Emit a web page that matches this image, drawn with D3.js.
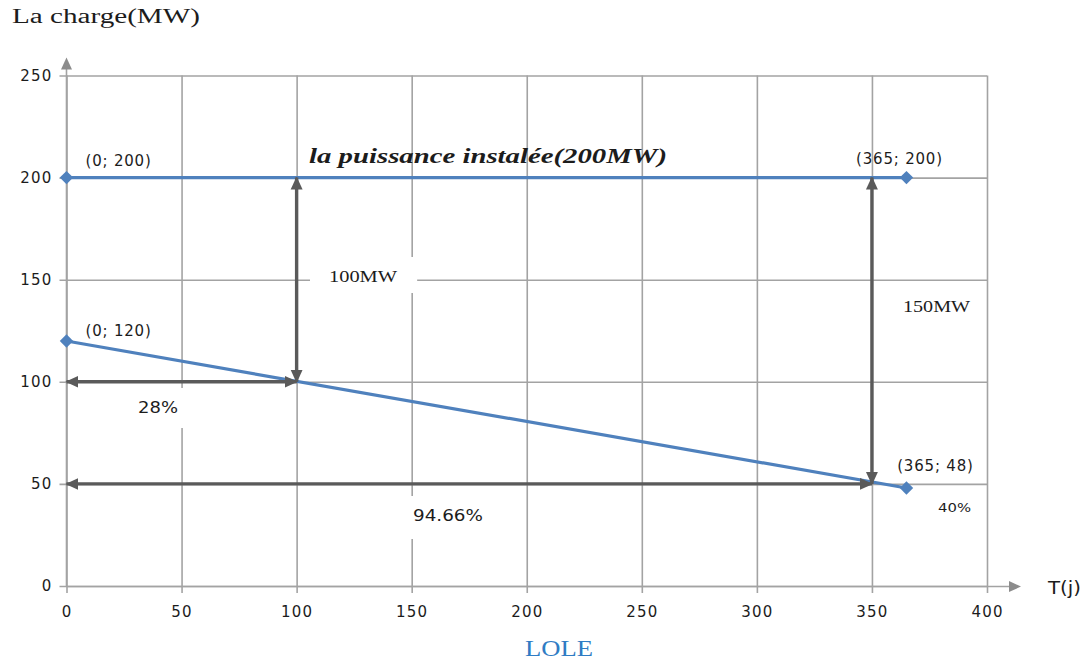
<!DOCTYPE html>
<html>
<head>
<meta charset="utf-8">
<script src="https://cdn.jsdelivr.net/npm/d3@7"></script>
<style>
  body { margin: 0; background: #fff; }
  svg { display: block; }
</style>
</head>
<body>
<svg id="chart" width="1086" height="664"></svg>
<script>
// ---- data ----
const xTicks = [0, 50, 100, 150, 200, 250, 300, 350, 400];
const yTicks = [0, 50, 100, 150, 200, 250];

// installed capacity (MW) over the year
const installedT  = [0, 365];
const installedMW = [200, 200];

// load curve (MW) over the year
const loadT  = [0, 365];
const loadMW = [120, 48];

// double-headed dimension arrows: [t1, mw1, t2, mw2]
const arrowT1  = [0, 100, 0, 350];
const arrowMW1 = [100, 100, 50, 50];
const arrowT2  = [100, 100, 350, 350];
const arrowMW2 = [100, 200, 50, 200];

// ---- layout ----
const svg = d3.select("#chart");
const x = d3.scaleLinear().domain([0, 400]).range([66.5, 987]);
const y = d3.scaleLinear().domain([0, 250]).range([586, 75.5]);

const gridColor = "#a3a3a3";
const blue = "#4f81bd";
const arrowColor = "#5a5a5a";
const textColor = "#1c1c1c";

// arrowhead markers
const defs = svg.append("defs");
defs.append("marker")
  .attr("id", "dimHead")
  .attr("viewBox", "0 0 12 12")
  .attr("refX", 11).attr("refY", 6)
  .attr("markerUnits", "userSpaceOnUse")
  .attr("markerWidth", 13).attr("markerHeight", 13)
  .attr("orient", "auto-start-reverse")
  .append("path").attr("d", "M0,0.5 L12,6 L0,11.5 Z").attr("fill", arrowColor);
defs.append("marker")
  .attr("id", "axisHead")
  .attr("viewBox", "0 0 12 12")
  .attr("refX", 1).attr("refY", 6)
  .attr("markerUnits", "userSpaceOnUse")
  .attr("markerWidth", 13).attr("markerHeight", 12)
  .attr("orient", "auto")
  .append("path").attr("d", "M0,0.5 L12,6 L0,11.5 Z").attr("fill", "#8c8c8c");

// ---- grid ----
const grid = svg.append("g");
// horizontal gridlines (with left tick)
grid.append("g")
  .attr("transform", `translate(${x(0)},0)`)
  .call(d3.axisLeft(y).tickValues(yTicks).tickSize(-(x(400) - x(0))).tickSizeOuter(0).tickFormat(d => d).tickPadding(14))
  .call(g => g.select(".domain").remove())
  .call(g => g.selectAll(".tick line").attr("stroke", gridColor).attr("stroke-width", 1.6).attr("x1", -7))
  .call(g => g.selectAll(".tick text")
    .attr("fill", textColor).attr("font-family", "DejaVu Sans, Verdana, sans-serif")
    .attr("font-size", 15).attr("letter-spacing", 1.2).attr("dy", "0.32em"));

// vertical gridlines (with bottom tick)
grid.append("g")
  .attr("transform", `translate(0,${y(0)})`)
  .call(d3.axisBottom(x).tickValues(xTicks).tickSize(-(y(0) - y(250))).tickSizeOuter(0).tickFormat(d => d).tickPadding(20))
  .call(g => g.select(".domain").remove())
  .call(g => g.selectAll(".tick line").attr("stroke", gridColor).attr("stroke-width", 1.6).attr("y1", 7))
  .call(g => g.selectAll(".tick text")
    .attr("fill", textColor).attr("font-family", "DejaVu Sans, Verdana, sans-serif")
    .attr("font-size", 15).attr("letter-spacing", 1.2).attr("dy", "0.71em"));

// axis arrows
svg.append("line")
  .attr("x1", x(0)).attr("y1", y(0)).attr("x2", x(0)).attr("y2", y(250) - 7)
  .attr("stroke", gridColor).attr("stroke-width", 1.6)
  .attr("marker-end", "url(#axisHead)");
svg.append("line")
  .attr("x1", x(0)).attr("y1", y(0) + 0.5).attr("x2", x(400) + 23).attr("y2", y(0) + 0.5)
  .attr("stroke", gridColor).attr("stroke-width", 1.6)
  .attr("marker-end", "url(#axisHead)");

// ---- text annotations with white backing boxes ----
const boxed = svg.append("g");
function note(txt, px, baseline, opts) {
  const g = boxed.append("g");
  const rect = g.append("rect").attr("fill", "#fff");
  const t = g.append("text")
    .attr("x", px).attr("y", baseline)
    .attr("fill", opts.color || textColor)
    .attr("font-family", opts.family)
    .attr("font-size", opts.size)
    .attr("font-weight", opts.weight || "normal")
    .attr("font-style", opts.style || "normal")
    .attr("text-anchor", opts.anchor || "start")
    .text(txt);
  if (opts.len) t.attr("textLength", opts.len).attr("lengthAdjust", "spacingAndGlyphs");
  if (opts.box) {
    const b = t.node().getBBox();
    rect.attr("x", b.x - opts.box[0]).attr("y", b.y - opts.box[1])
      .attr("width", b.width + 2 * opts.box[0]).attr("height", b.height + opts.box[1] + opts.box[2]);
  } else rect.remove();
  return t;
}
const sans = "DejaVu Sans, Verdana, sans-serif";
const serif = "Liberation Serif, Times New Roman, serif";

note("La charge(MW)", 12, 23, { family: serif, size: 20, len: 188 });
note("T(j)", 1048, 594, { family: sans, size: 17, len: 33 });
note("100MW", 329, 282, { family: serif, size: 16, len: 68, box: [19, 11, 8] });
note("150MW", 903, 312, { family: serif, size: 16, len: 67 });
note("28%", 138, 413, { family: sans, size: 15, len: 40, box: [22, 11, 11] });
note("94.66%", 413, 521, { family: sans, size: 15, len: 70, box: [18, 11, 14] });
note("40%", 938, 512, { family: sans, size: 13, len: 33 });
note("LOLE", 559, 656, { family: serif, size: 23, anchor: "middle", color: "#2f7cc4", len: 68 });

// ---- series ----
const installed = installedT.map((t, i) => ({ t, mw: installedMW[i] }));
const load = loadT.map((t, i) => ({ t, mw: loadMW[i] }));
const lineGen = d3.line().x(d => x(d.t)).y(d => y(d.mw));

const series = svg.append("g");
[installed, load].forEach(s => {
  series.append("path").datum(s)
    .attr("d", lineGen)
    .attr("fill", "none").attr("stroke", blue).attr("stroke-width", 3.2);
});

// ---- dimension arrows ----
const arrows = arrowT1.map((t1, i) => ({ t1, mw1: arrowMW1[i], t2: arrowT2[i], mw2: arrowMW2[i] }));
svg.append("g").selectAll("line").data(arrows).join("line")
  .attr("x1", d => x(d.t1)).attr("y1", d => y(d.mw1))
  .attr("x2", d => x(d.t2)).attr("y2", d => y(d.mw2))
  .attr("stroke", arrowColor).attr("stroke-width", 3.4)
  .attr("marker-start", "url(#dimHead)").attr("marker-end", "url(#dimHead)");

// ---- markers ----
const diamond = d3.symbol().type(d3.symbolSquare).size(90);
const pts = [...installed, ...load];
series.selectAll(".pt").data(pts).join("path")
  .attr("class", "pt")
  .attr("d", diamond)
  .attr("transform", d => `translate(${x(d.t)},${y(d.mw)}) rotate(45)`)
  .attr("fill", blue);

// point labels, built from the values
const labelOffsets = [[19, -12, "start"], [-7, -14, "middle"], [19, -5, "start"], [29, -17, "middle"]];
svg.append("g").selectAll("text").data(pts).join("text")
  .attr("x", (d, i) => x(d.t) + labelOffsets[i][0])
  .attr("y", (d, i) => y(d.mw) + labelOffsets[i][1])
  .attr("text-anchor", (d, i) => labelOffsets[i][2])
  .attr("fill", textColor).attr("font-family", sans).attr("font-size", 15)
  .attr("letter-spacing", 0.8)
  .text(d => `(${d.t}; ${d.mw})`);

// installed capacity caption
note("la puissance instalée(200MW)", 309, 163,
  { family: serif, size: 20, weight: "bold", style: "italic", len: 358 });
</script>
</body>
</html>
